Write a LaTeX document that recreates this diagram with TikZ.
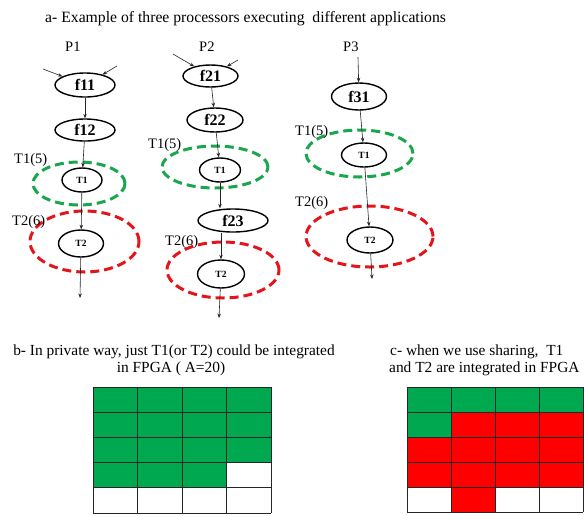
\documentclass[tikz,border=0pt]{standalone}
\usepackage{fontspec}
\setmainfont{Liberation Serif}
\usetikzlibrary{shapes.geometric,arrows.meta}
\definecolor{cellgreen}{HTML}{00A94F}
\definecolor{cellred}{HTML}{FF0000}
\definecolor{ringgreen}{HTML}{1BA64E}
\definecolor{ringred}{HTML}{E3151B}

\begin{document}
\begin{tikzpicture}[x=1pt,y=-1pt,
  fn/.style={ellipse,draw,line width=1.4pt,inner sep=0pt,
    font=\bfseries\fontsize{16}{16}\selectfont},
  tk/.style={ellipse,draw,line width=1.4pt,inner sep=0pt,
    font=\bfseries\fontsize{9.5}{10}\selectfont},
  ring/.style={ellipse,line width=3pt,dash pattern=on 9pt off 5pt,inner sep=0pt},
  arr/.style={-{Stealth[length=4.5pt,width=3.5pt]},line width=0.6pt,black!85},
  lbl/.style={anchor=base west,inner sep=0pt,font=\fontsize{14.5}{15}\selectfont},
  txt/.style={inner sep=0pt,font=\fontsize{15.4}{16}\selectfont},
  gridline/.style={line width=0.7pt,black!85},
]
\fill[white] (0,0) rectangle (584,515);
\useasboundingbox (0,0) rectangle (584,515);

% headings
\node[txt,anchor=base west,font=\fontsize{15.7}{16}\selectfont] (title) at (45,22)
  {a- Example of three processors executing\ \ different applications};
\node[lbl] (p1) at (65,51) {P1};
\node[lbl] (p2) at (199,51) {P2};
\node[lbl] (p3) at (343,51) {P3};

% ---------- processor P1 ----------
\node[ring,draw=ringgreen,minimum width=92pt,minimum height=43pt] (g1) at (79,183.5) {};
\node[ring,draw=ringred,minimum width=109pt,minimum height=61pt] (r1) at (84.5,241.5) {};
\node[fn,minimum width=60pt,minimum height=24pt] (f11) at (85,85) {f11};
\node[fn,minimum width=60pt,minimum height=22pt] (f12) at (85,130) {f12};
\node[tk,minimum width=40pt,minimum height=24pt] (t1a) at (82,180) {T1};
\node[tk,minimum width=45pt,minimum height=27pt] (t2a) at (81,243.5) {T2};
\node[lbl] (l1a) at (14,163) {T1(5)};
\node[lbl] (l2a) at (12,225) {T2(6)};
\coordinate (in1a) at (43,69);
\coordinate (in1b) at (117,66);
\coordinate (out1) at (80,298);
\draw[arr] (in1a) -- (f11);
\draw[arr] (in1b) -- (f11);
\draw[arr] (f11) -- (f12);
\draw[arr] (f12) -- (t1a);
\draw[arr] (t1a) -- (t2a);
\draw[arr] (t2a) -- (out1);

% ---------- processor P2 ----------
\node[ring,draw=ringgreen,minimum width=106pt,minimum height=42pt] (g2) at (215,167) {};
\node[ring,draw=ringred,minimum width=112pt,minimum height=56pt] (r2) at (223,270) {};
\node[fn,minimum width=55pt,minimum height=22pt] (f21) at (210.5,76) {f21};
\node[fn,minimum width=56pt,minimum height=24pt] (f22) at (215,120) {f22};
\node[tk,minimum width=41pt,minimum height=24pt] (t1b) at (220,170) {T1};
\node[fn,minimum width=70pt,minimum height=23pt] (f23) at (233,220.5) {f23};
\node[tk,minimum width=47pt,minimum height=28pt] (t2b) at (221,274) {T2};
\node[lbl] (l1b) at (148,148) {T1(5)};
\node[lbl] (l2b) at (165,245) {T2(6)};
\coordinate (in2a) at (173,54);
\coordinate (in2b) at (238,60);
\coordinate (out2) at (219,318);
\draw[arr] (in2a) -- (f21);
\draw[arr] (in2b) -- (f21);
\draw[arr] (f21) -- (f22);
\draw[arr] (f22) -- (t1b);
\draw[arr] (t1b.south) -- (t1b.south |- f23.north);
\draw[arr] (t2b.north |- f23.south) -- (t2b.north);
\draw[arr] (t2b) -- (out2);

% ---------- processor P3 ----------
\node[ring,draw=ringgreen,minimum width=107pt,minimum height=47pt] (g3) at (359.5,153.5) {};
\node[ring,draw=ringred,minimum width=127pt,minimum height=61pt] (r3) at (369.5,236.5) {};
\node[fn,minimum width=55pt,minimum height=27pt] (f31) at (359,96.5) {f31};
\node[tk,minimum width=45pt,minimum height=24pt] (t1c) at (364,155) {T1};
\node[tk,minimum width=46pt,minimum height=26pt] (t2c) at (370,240) {T2};
\node[lbl] (l1c) at (295,135) {T1(5)};
\node[lbl] (l2c) at (295,206) {T2(6)};
\coordinate (in3) at (358,57);
\coordinate (out3) at (372,279);
\draw[arr] (in3) -- (f31);
\draw[arr] (f31) -- (t1c);
\draw[arr] (t1c) -- (t2c);
\draw[arr] (t2c) -- (out3);

% ---------- captions ----------
\node[txt,anchor=base] (capb1) at (174,355)
  {b- In private way, just T1(or T2) could be integrated};
\node[txt,anchor=base] (capb2) at (171,372) {in FPGA ( A=20)};
\node[txt,anchor=base west] (capc1) at (390,355) {c- when we use sharing,\ \ T1};
\node[txt,anchor=base west] (capc2) at (389,372) {and T2 are integrated in FPGA};

% ---------- FPGA area, private use ----------
\fill[cellgreen] (93,387) rectangle (271,462.6);
\fill[cellgreen] (93,462.6) rectangle (226.5,487.8);
\foreach \i in {0,...,4}
  \draw[gridline] (93+44.5*\i,387) -- (93+44.5*\i,513);
\foreach \j in {0,...,5}
  \draw[gridline] (93,387+25.2*\j) -- (271,387+25.2*\j);

% ---------- FPGA area, shared use ----------
\fill[cellgreen] (407,387) rectangle (583,412);
\fill[cellgreen] (407,412) rectangle (451,437);
\fill[cellred] (451,412) rectangle (583,437);
\fill[cellred] (407,437) rectangle (583,487);
\fill[cellred] (451,487) rectangle (495,512);
\foreach \i in {0,...,4}
  \draw[gridline] (407+44*\i,387) -- (407+44*\i,512);
\foreach \j in {0,...,5}
  \draw[gridline] (407,387+25*\j) -- (583,387+25*\j);
\end{tikzpicture}
\end{document}
